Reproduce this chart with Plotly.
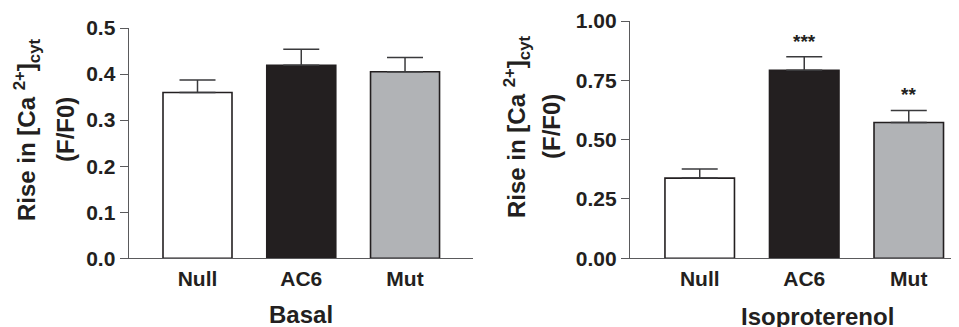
import plotly.graph_objects as go

# page body has an 8px default margin; figure is sized so that it fits the 959x327 window
OFF = 8
W, H = 959 - OFF, 327 - OFF

categories = ["Null", "AC6", "Mut"]
basal_values = [0.36, 0.419, 0.405]
basal_errors = [0.027, 0.035, 0.031]
iso_values = [0.338, 0.792, 0.572]
iso_errors = [0.038, 0.057, 0.051]
iso_sig = ["", "***", "**"]
basal_ticks = [0.0, 0.1, 0.2, 0.3, 0.4, 0.5]
iso_ticks = [0.0, 0.25, 0.5, 0.75, 1.0]
bar_colors = ["#ffffff", "#231f20", "#b1b3b6"]

FONT = "Liberation Sans, Arial, Helvetica, sans-serif"
TXT = "#231f20"
AX = "#5a5a5c"


def PX(v):
    return (v - OFF) / W


def PY(v):
    return (H - (v - OFF)) / H


fig = go.Figure()

for vals, errs, xa, ya in [(basal_values, basal_errors, "x", "y"),
                           (iso_values, iso_errors, "x2", "y2")]:
    fig.add_trace(go.Bar(
        x=categories, y=vals, xaxis=xa, yaxis=ya,
        width=0.665,
        marker=dict(color=bar_colors, line=dict(color="#231f20", width=1.6)),
        error_y=dict(type="data", array=errs, arrayminus=[0, 0, 0], symmetric=False,
                     color="#3a3a3c", thickness=1.5, width=18),
        showlegend=False, hoverinfo="skip",
    ))

xd1 = [PX(128.7), PX(473)]
xd2 = [PX(630), 1.0]
yd1 = [PY(258.3), PY(28)]
yd2 = [PY(258.3), PY(21)]

common_x = dict(
    type="category", showline=True, linecolor=AX, linewidth=1.3,
    ticks="", showgrid=False, zeroline=False, automargin=False,
    tickfont=dict(family=FONT, size=21, color=TXT, weight="bold"),
    ticklabelstandoff=1,
)
common_y = dict(
    showline=True, linecolor=AX, linewidth=1.3, ticks="outside", ticklen=8,
    tickcolor=AX, tickwidth=1.3, showgrid=False, zeroline=False, automargin=False,
    tickfont=dict(family=FONT, size=21, color=TXT, weight="bold"),
    ticklabelstandoff=0,
)

fig.update_layout(
    width=W, height=H,
    margin=dict(l=0, r=0, t=0, b=0),
    paper_bgcolor="white", plot_bgcolor="white",
    xaxis=dict(domain=xd1, range=[-0.663, 2.655], anchor="y", **common_x),
    yaxis=dict(domain=yd1, range=[0, 0.5], anchor="x", tickvals=basal_ticks,
               tickformat=".1f", **common_y),
    xaxis2=dict(domain=xd2, range=[-0.667, 2.559 - 8 / 102], anchor="y2", **common_x),
    yaxis2=dict(domain=yd2, range=[0, 1.0], anchor="x2", tickvals=iso_ticks,
                tickformat=".2f", **common_y),
)

ann = []
# y axis titles
for x1, x2, yc in [(27, 65, 130), (517, 552, 127)]:
    ann.append(dict(text="Rise in [Ca <sup>2+</sup>]<sub>cyt</sub>", textangle=-90,
                    x=PX(x1), y=PY(yc), xref="paper", yref="paper",
                    xanchor="center", yanchor="middle", showarrow=False,
                    font=dict(family=FONT, size=24, color=TXT, weight="bold")))
    ann.append(dict(text="(F/F0)", textangle=-90,
                    x=PX(x2), y=PY(yc), xref="paper", yref="paper",
                    xanchor="center", yanchor="middle", showarrow=False,
                    font=dict(family=FONT, size=24, color=TXT, weight="bold")))
# x titles
ann.append(dict(text="Basal", x=PX(301), y=PY(314), xref="paper", yref="paper",
                xanchor="center", yanchor="middle", showarrow=False,
                font=dict(family=FONT, size=24, color=TXT, weight="bold")))
ann.append(dict(text="Isoproterenol", x=PX(817.5), y=PY(316), xref="paper", yref="paper",
                xanchor="center", yanchor="middle", showarrow=False,
                font=dict(family=FONT, size=24, color=TXT, weight="bold")))
# significance stars
for c, v, e, s in zip(categories, iso_values, iso_errors, iso_sig):
    if s:
        ann.append(dict(text=s, x=c, y=v + e, xref="x2", yref="y2",
                        xanchor="center", yanchor="bottom", yshift=3, showarrow=False,
                        font=dict(family=FONT, size=19, color=TXT, weight="bold")))
fig.update_layout(annotations=ann)

fig.write_html("out.html")
